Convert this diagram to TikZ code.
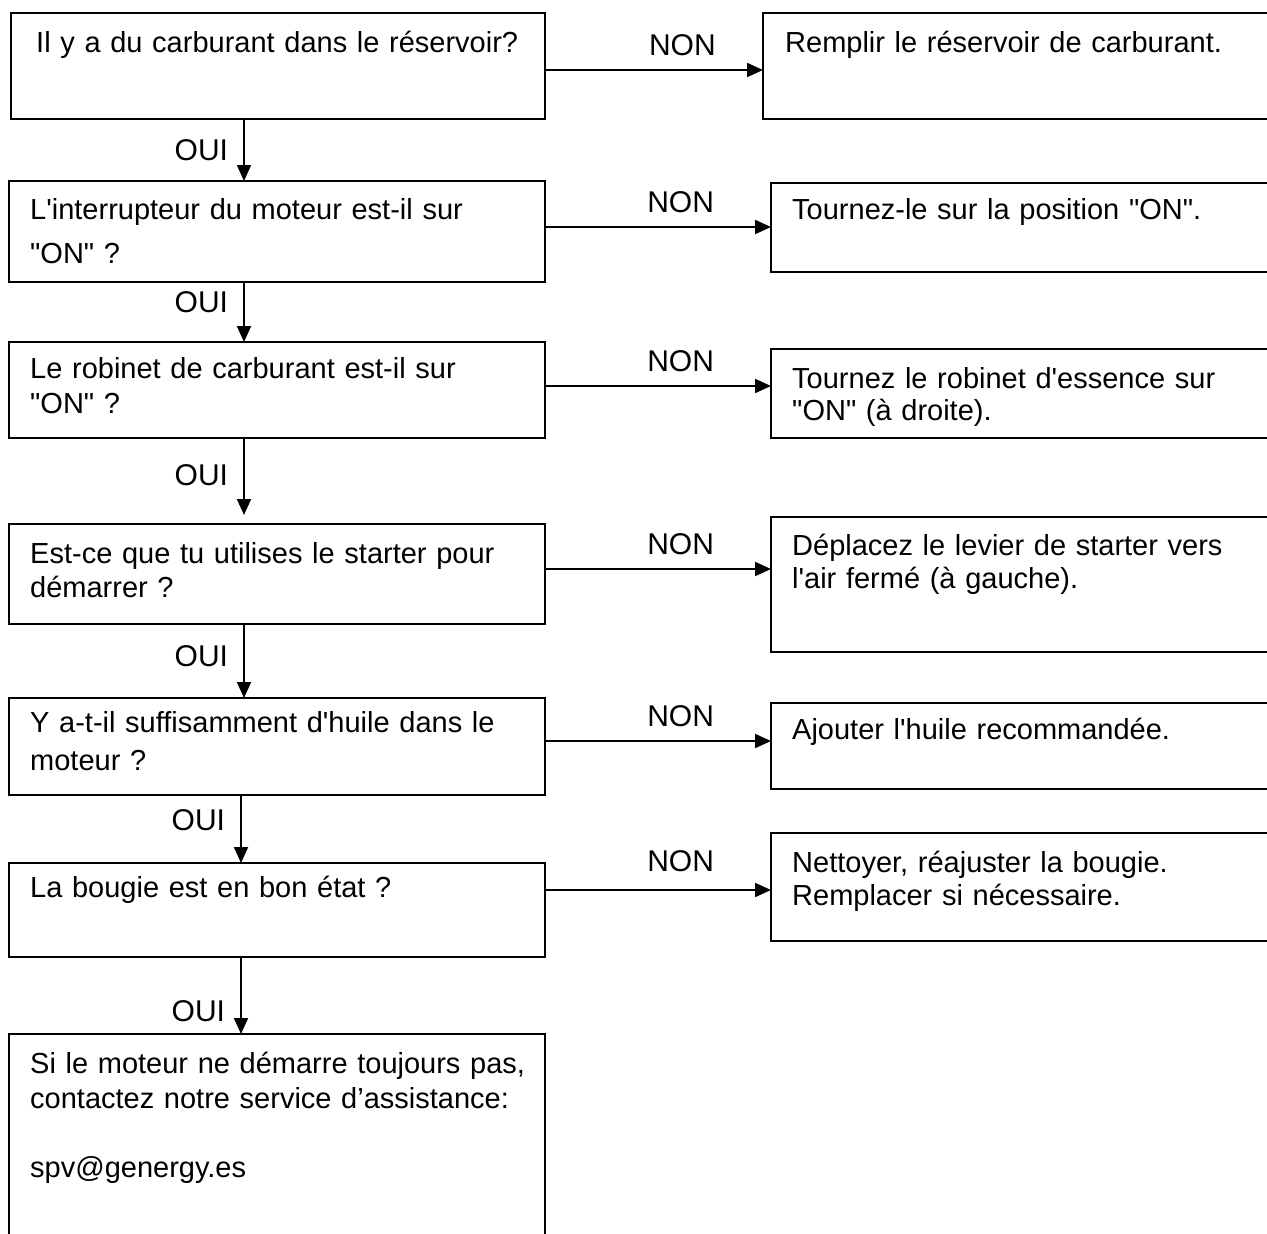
\documentclass[tikz,border=0pt]{standalone}
\usepackage{fontspec}
\newfontfamily\flowfont{Liberation Sans}
\usetikzlibrary{arrows.meta}
\tikzset{
  qbox/.style={draw, line width=1.9pt, anchor=north west, inner sep=0pt, outer sep=0pt, minimum width=536pt},
  abox/.style={draw, line width=1.9pt, anchor=north west, inner sep=0pt, outer sep=0pt, minimum width=600pt},
  txt/.style={anchor=base west, inner sep=0pt, align=left, text width=520pt, font=\flowfont\fontsize{29}{34}\selectfont},
  lbl/.style={inner sep=0pt, font=\flowfont\fontsize{30}{34}\selectfont},
  arr/.style={line width=1.9pt, -{Triangle[length=16pt,width=14pt]}},
}
\begin{document}
\begin{tikzpicture}[x=1pt,y=-1pt]
\useasboundingbox (0,0) rectangle (1267,1234);
\clip (0,0) rectangle (1267,1234);
% questions
\node[qbox, minimum width=534pt, minimum height=106pt] (q1) at (11,13) {};
\node[qbox, minimum height=101pt] (q2) at (9,181) {};
\node[qbox, minimum height=96pt] (q3) at (9,342) {};
\node[qbox, minimum height=100pt] (q4) at (9,524) {};
\node[qbox, minimum height=97pt] (q5) at (9,698) {};
\node[qbox, minimum height=94pt] (q6) at (9,863) {};
\node[qbox, minimum height=260pt] (q7) at (9,1034) {};
\node[txt] (q1t) at (36,52) {Il y a du carburant dans le réservoir?};
\node[txt] (q2t) at (30,219) {L'interrupteur du moteur est-il sur\\[10pt]"ON" ?};
\node[txt] (q3t) at (30,378) {Le robinet de carburant est-il sur\\[1pt]"ON" ?};
\node[txt] (q4t) at (30,563) {Est-ce que tu utilises le starter pour\\démarrer ?};
\node[txt] (q5t) at (30,732) {Y a-t-il suffisamment d'huile dans le\\[4pt]moteur ?};
\node[txt] (q6t) at (30,897) {La bougie est en bon état ?};
\node[txt] (q7t) at (30,1073) {Si le moteur ne démarre toujours pas,\\[1pt]contactez notre service d’assistance:\\[35pt]spv@genergy.es};
% remedies
\node[abox, minimum width=608pt, minimum height=106pt] (r1) at (763,13) {};
\node[abox, minimum height=89pt] (r2) at (771,183) {};
\node[abox, minimum height=89pt] (r3) at (771,349) {};
\node[abox, minimum height=135pt] (r4) at (771,517) {};
\node[abox, minimum height=86pt] (r5) at (771,703) {};
\node[abox, minimum height=108pt] (r6) at (771,833) {};
\node[txt] (r1t) at (785,52) {Remplir le réservoir de carburant.};
\node[txt] (r2t) at (792,219) {Tournez-le sur la position "ON".};
\node[txt] (r3t) at (792,388) {Tournez le robinet d'essence sur\\[-2pt]"ON" (à droite).};
\node[txt] (r4t) at (792,555) {Déplacez le levier de starter vers\\[-1pt]l'air fermé (à gauche).};
\node[txt] (r5t) at (792,739) {Ajouter l'huile recommandée.};
\node[txt] (r6t) at (792,872) {Nettoyer, réajuster la bougie.\\[-1pt]Remplacer si nécessaire.};
% OUI
\coordinate (sp) at (244,0);
\coordinate (sq) at (241,0);
\draw[arr] (sp |- q1.south) -- node[lbl, left=15pt, pos=0.5] {OUI} (sp |- q2.north);
\draw[arr] (sp |- q2.south) -- node[lbl, left=15pt, pos=0.33] {OUI} (sp |- q3.north);
\draw[arr] (sp |- q3.south) -- node[lbl, left=15pt, pos=0.48] {OUI} ([yshift=9pt]sp |- q4.north);
\draw[arr] (sp |- q4.south) -- node[lbl, left=15pt, pos=0.43] {OUI} (sp |- q5.north);
\draw[arr] (sq |- q5.south) -- node[lbl, left=15pt, pos=0.37] {OUI} (sq |- q6.north);
\draw[arr] (sq |- q6.south) -- node[lbl, left=15pt, pos=0.7] {OUI} (sq |- q7.north);
% NON
\coordinate (n1) at (0,70);
\coordinate (n2) at (0,227);
\coordinate (n3) at (0,386);
\coordinate (n4) at (0,569);
\coordinate (n5) at (0,741);
\coordinate (n6) at (0,890);
\draw[arr] (q1.east |- n1) -- node[lbl, above=13pt, pos=0.63] {NON} (r1.west |- n1);
\draw[arr] (q2.east |- n2) -- node[lbl, above=13pt, pos=0.6] {NON} (r2.west |- n2);
\draw[arr] (q3.east |- n3) -- node[lbl, above=13pt, pos=0.6] {NON} (r3.west |- n3);
\draw[arr] (q4.east |- n4) -- node[lbl, above=13pt, pos=0.6] {NON} (r4.west |- n4);
\draw[arr] (q5.east |- n5) -- node[lbl, above=13pt, pos=0.6] {NON} (r5.west |- n5);
\draw[arr] (q6.east |- n6) -- node[lbl, above=17pt, pos=0.6] {NON} (r6.west |- n6);
\end{tikzpicture}
\end{document}
